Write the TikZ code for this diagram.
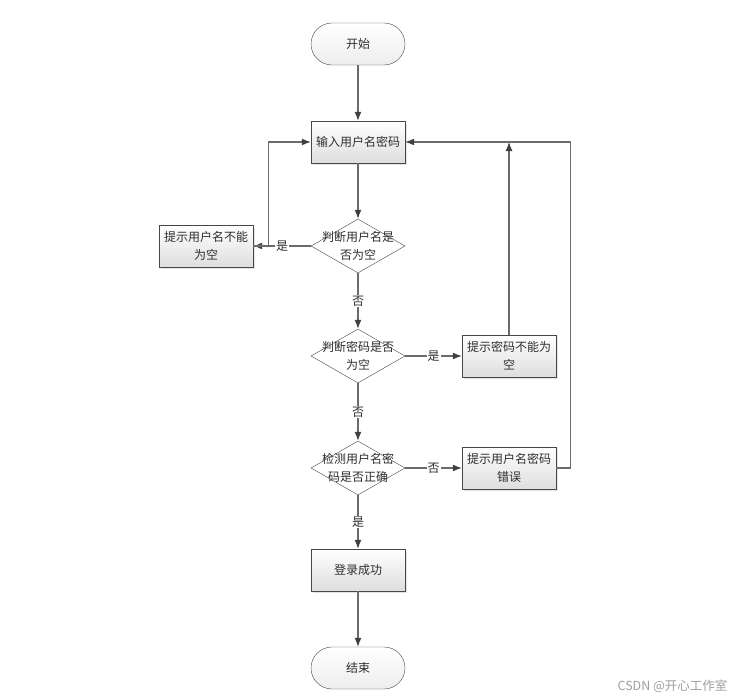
\documentclass[tikz,border=0pt]{standalone}
\usepackage{fontspec}
\newfontfamily\cjk{Noto Sans CJK SC}
\usetikzlibrary{shapes.geometric,shadows,arrows.meta}
\tikzset{>={Latex[length=9pt,width=7pt,color=black!75]}}
\colorlet{linegray}{black!58}
\colorlet{framegray}{black!72}
\tikzset{
  box/.style={rectangle, draw=framegray, top color=white, bottom color=black!13,
    minimum width=94pt, minimum height=42pt, align=center, inner sep=2pt,
    drop shadow={shadow xshift=2pt, shadow yshift=-2pt, opacity=0.22}},
  terminal/.style={rectangle, rounded corners=21pt, draw=framegray,
    top color=white, bottom color=black!7, minimum width=94pt, minimum height=42pt},
  decision/.style={diamond, draw=framegray, fill=white, minimum width=94pt,
    minimum height=54pt, inner sep=0pt, label={[align=center]center:#1}},
  flow/.style={->, draw=linegray, line width=1.1pt},
  answer/.style={fill=white, inner sep=1pt}
}

\begin{document}
\begin{tikzpicture}[x=1pt, y=-1pt, font=\cjk\fontsize{12}{18}\selectfont, text=black!82]
  \useasboundingbox (0,0) rectangle (740,699);
  % nodes
  \node[terminal] (start) at (358,44) {开始};
  \node[box] (input) at (358,142) {输入用户名密码};
  \node[decision={判断用户名是\\否为空}] (chkUser) at (358,246) {};
  \node[box] (warnUser) at (206,246) {提示用户名不能\\为空};
  \node[decision={判断密码是否\\为空}] (chkPass) at (358,356) {};
  \node[box] (warnPass) at (509,356) {提示密码不能为\\空};
  \node[decision={检测用户名密\\码是否正确}] (chkLogin) at (358,468) {};
  \node[box] (wrong) at (509,468) {提示用户名密码\\错误};
  \node[box] (success) at (358,570) {登录成功};
  \node[terminal] (stop) at (358,668) {结束};
  % connectors
  \draw[flow] (start) -- (input);
  \draw[flow] (input) -- (chkUser);
  \draw[flow] (chkUser) -- node[answer] {是} (warnUser);
  \draw[flow] (warnUser.east) -- ++(15,0) |- (input.west);
  \draw[flow] (chkUser) -- node[answer] {否} (chkPass);
  \draw[flow] (chkPass) -- node[answer] {是} (warnPass);
  \draw[flow] (warnPass.north) -- (warnPass.north |- input.east);
  \draw[flow] (chkPass) -- node[answer] {否} (chkLogin);
  \draw[flow] (chkLogin) -- node[answer] {否} (wrong);
  \draw[flow] (wrong.east) -- ++(14,0) |- (input.east);
  \draw[flow] (chkLogin) -- node[answer] {是} (success);
  \draw[flow] (success) -- (stop);
  % watermark
  \node[anchor=east, text=black!38, font=\cjk\fontsize{12.5}{14}\selectfont] (mark) at (731,686) {CSDN @开心工作室};
\end{tikzpicture}
\end{document}
